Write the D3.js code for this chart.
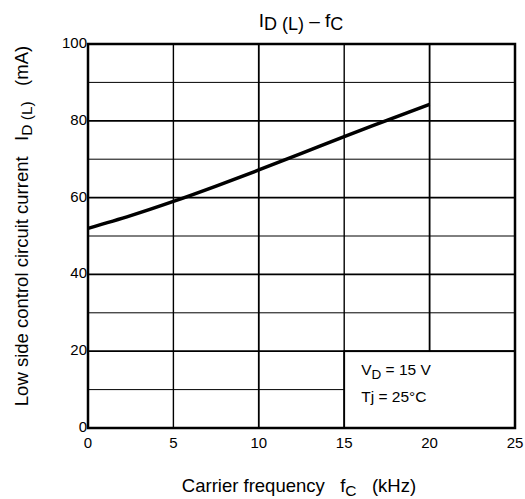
<!DOCTYPE html>
<html>
<head>
<meta charset="utf-8">
<script src="https://cdn.jsdelivr.net/npm/d3@7"></script>
<style>
  body { margin: 0; background: #fff; }
  text { font-family: "Liberation Sans", Arial, sans-serif; fill: #000; }
</style>
</head>
<body>
<script>
const freq = [0, 2.5, 5, 7.5, 10, 12.5, 15, 17.5, 20];
const current = [52, 55.3, 59, 63, 67.2, 71.5, 75.9, 80.1, 84.3];
const xTicks = [0, 5, 10, 15, 20, 25];
const yTicks = [0, 20, 40, 60, 80, 100];
const yMinor = [10, 30, 50, 70, 90];

const width = 525, height = 499;
const margin = {top: 44, right: 10, bottom: 71, left: 88};

const x = d3.scaleLinear().domain([0, 25]).range([margin.left, width - margin.right]);
const y = d3.scaleLinear().domain([0, 100]).range([height - margin.bottom, margin.top]);

const svg = d3.select("body").append("svg")
    .attr("width", width)
    .attr("height", height);

// grid
svg.append("g")
    .attr("stroke", "#000")
  .selectAll("line")
  .data(yMinor)
  .join("line")
    .attr("stroke-width", 1)
    .attr("x1", x(0))
    .attr("x2", x(25))
    .attr("y1", d => y(d))
    .attr("y2", d => y(d));

svg.append("g")
    .attr("stroke", "#000")
  .selectAll("line")
  .data(yTicks.slice(1, -1))
  .join("line")
    .attr("stroke-width", 1.8)
    .attr("x1", x(0))
    .attr("x2", x(25))
    .attr("y1", d => y(d))
    .attr("y2", d => y(d));

svg.append("g")
    .attr("stroke", "#000")
  .selectAll("line")
  .data(xTicks.slice(1, -1))
  .join("line")
    .attr("stroke-width", d => d % 10 === 0 ? 1.8 : 1.4)
    .attr("x1", d => x(d))
    .attr("x2", d => x(d))
    .attr("y1", y(0))
    .attr("y2", y(100));

// condition box
svg.append("rect")
    .attr("x", x(15))
    .attr("y", y(20))
    .attr("width", x(25) - x(15))
    .attr("height", y(0) - y(20))
    .attr("fill", "#fff")
    .attr("stroke", "#000")
    .attr("stroke-width", 1.8);

const cond = svg.append("g").attr("font-size", 15.5);
const t1 = cond.append("text").attr("x", x(15) + 17).attr("y", y(20) + 24);
t1.append("tspan").text("V");
t1.append("tspan").attr("font-size", 13.5).attr("dy", 4).text("D");
t1.append("tspan").attr("dy", -4).text(" = 15 V");
cond.append("text").attr("x", x(15) + 17).attr("y", y(20) + 51).text("Tj = 25°C");

// frame
svg.append("rect")
    .attr("x", x(0))
    .attr("y", y(100))
    .attr("width", x(25) - x(0))
    .attr("height", y(0) - y(100))
    .attr("fill", "none")
    .attr("stroke", "#000")
    .attr("stroke-width", 2.5);

// curve
svg.append("path")
    .datum(freq.map((f, i) => [f, current[i]]))
    .attr("fill", "none")
    .attr("stroke", "#000")
    .attr("stroke-width", 3.5)
    .attr("d", d3.line().x(d => x(d[0])).y(d => y(d[1])).curve(d3.curveMonotoneX));

// tick labels
svg.append("g")
    .attr("font-size", 15)
    .attr("text-anchor", "middle")
  .selectAll("text")
  .data(xTicks)
  .join("text")
    .attr("x", d => x(d))
    .attr("y", y(0) + 20)
    .text(d => d);

svg.append("g")
    .attr("font-size", 15)
    .attr("text-anchor", "end")
  .selectAll("text")
  .data(yTicks)
  .join("text")
    .attr("x", x(0) - 1)
    .attr("y", d => y(d) + 4)
    .text(d => d);

// title
const title = svg.append("text")
    .attr("x", 301)
    .attr("y", 27)
    .attr("text-anchor", "middle")
    .attr("font-size", 19);
title.append("tspan").text("I");
title.append("tspan").attr("font-size", 18).attr("dy", 3).text("D (L)");
title.append("tspan").attr("dy", -3).text(" – f");
title.append("tspan").attr("font-size", 18).attr("dy", 3).text("C");

// x label
const xl = svg.append("text")
    .attr("x", 299)
    .attr("y", 492)
    .attr("text-anchor", "middle")
    .attr("font-size", 18.5)
    .attr("xml:space", "preserve");
xl.append("tspan").text("Carrier frequency   f");
xl.append("tspan").attr("font-size", 15.5).attr("dy", 4).text("C");
xl.append("tspan").attr("dy", -4).text("   (kHz)");

// y label
const yl = svg.append("text")
    .attr("transform", "translate(28,226) rotate(-90)")
    .attr("text-anchor", "middle")
    .attr("font-size", 18.5)
    .attr("xml:space", "preserve");
yl.append("tspan").text("Low side control circuit current   I");
yl.append("tspan").attr("font-size", 15.5).attr("dy", 4).text("D (L)");
yl.append("tspan").attr("dy", -4).text("   (mA)");
</script>
</body>
</html>
